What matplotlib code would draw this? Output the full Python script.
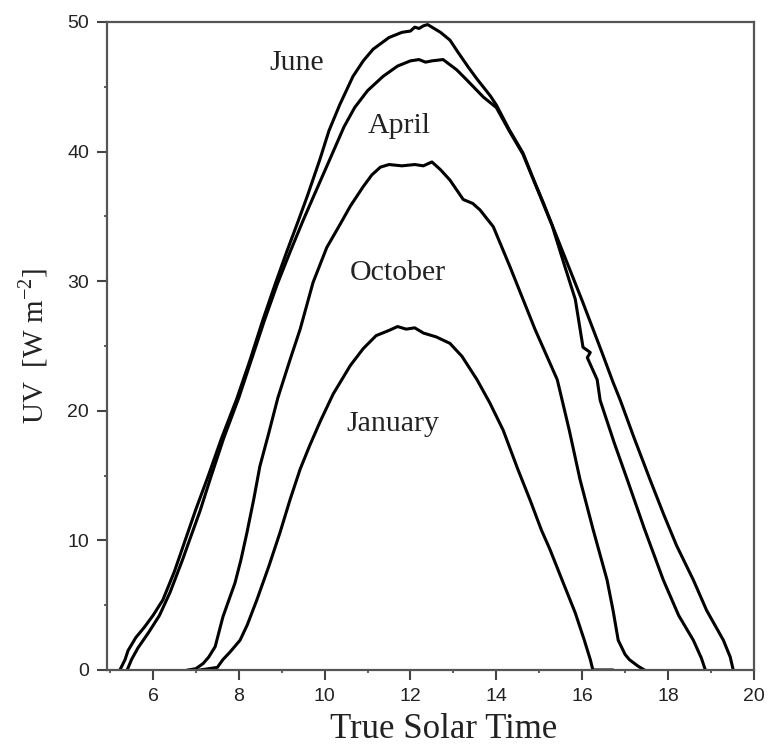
import matplotlib
matplotlib.use('Agg')
import matplotlib.pyplot as plt
from matplotlib.ticker import MultipleLocator, FixedLocator

# UV traces
june_x = [5.23, 5.35, 5.42, 5.6, 5.8, 6.0, 6.23, 6.5, 6.75, 7.0, 7.28, 7.6, 7.95, 8.25, 8.56, 8.85,
          9.12, 9.38, 9.6, 9.89, 10.1, 10.35, 10.66, 10.9, 11.13, 11.5, 11.8, 12.0, 12.1, 12.2, 12.3,
          12.4, 12.5, 12.7, 12.92, 13.1, 13.35, 13.55, 13.86, 14.0, 14.3, 14.62, 14.85, 15.09, 15.4,
          15.7, 16.0, 16.45, 16.72, 16.89, 17.2, 17.58, 17.9, 18.2, 18.59, 18.9, 19.29, 19.45, 19.52]
june_y = [0, 0.8, 1.5, 2.5, 3.3, 4.2, 5.4, 7.6, 10.0, 12.4, 14.9, 17.9, 20.9, 23.8, 27.0, 29.8,
          32.3, 34.6, 36.6, 39.4, 41.6, 43.6, 45.8, 47.0, 47.9, 48.8, 49.2, 49.3, 49.6, 49.5, 49.7,
          49.8, 49.6, 49.2, 48.6, 47.7, 46.5, 45.6, 44.3, 43.6, 41.7, 39.9, 38.0, 36.1, 33.5,
          31.0, 28.5, 24.6, 22.2, 20.8, 18.0, 14.7, 12.0, 9.6, 6.95, 4.6, 2.3, 1.0, 0]

april_x = [5.4, 5.5, 5.65, 5.9, 6.15, 6.4, 6.7, 6.85, 7.1, 7.35, 7.65, 8.0, 8.3, 8.6, 8.9, 9.2,
           9.5, 9.75, 10.2, 10.45, 10.7, 11.0, 11.36, 11.7, 12.0, 12.2, 12.35, 12.5, 12.76, 13.08,
           13.32, 13.7, 14.0, 14.3, 14.62, 15.09, 15.3, 15.6, 15.84, 16.02, 16.19, 16.12, 16.35,
           16.42, 16.75, 17.05, 17.45, 17.89, 18.25, 18.59, 18.78, 18.87]
april_y = [0, 0.8, 1.7, 2.9, 4.2, 6.0, 8.6, 10.0, 12.3, 14.9, 17.9, 21.0, 24.0, 27.0, 29.8, 32.3,
           34.7, 36.6, 40.0, 41.9, 43.4, 44.7, 45.8, 46.6, 47.0, 47.1, 46.9, 47.0, 47.1, 46.3,
           45.5, 44.2, 43.4, 41.6, 39.8, 36.0, 34.3, 31.1, 28.6, 24.9, 24.5, 24.1, 22.4,
           20.8, 17.5, 14.7, 10.9, 6.95, 4.2, 2.3, 0.9, 0]

oct_x = [6.82, 7.0, 7.17, 7.3, 7.45, 7.63, 7.78, 7.91, 8.05, 8.19, 8.35, 8.49, 8.7, 8.91, 9.2,
         9.43, 9.73, 10.05, 10.38, 10.6, 10.9, 11.1, 11.3, 11.5, 11.8, 12.1, 12.3, 12.5, 12.7,
         12.92, 13.23, 13.45, 13.62, 13.93, 14.32, 14.9, 15.42, 15.7, 15.95, 16.25, 16.58,
         16.72, 16.84, 17.0, 17.1, 17.3, 17.45]
oct_y = [0, 0.1, 0.5, 1.0, 1.8, 4.1, 5.5, 6.7, 8.5, 10.6, 13.2, 15.7, 18.3, 21.0, 24.0,
         26.3, 29.9, 32.6, 34.5, 35.8, 37.3, 38.2, 38.8, 39.0, 38.9, 39.0, 38.9, 39.2, 38.6,
         37.8, 36.3, 36.0, 35.5, 34.2, 31.1, 26.3, 22.4, 18.5, 14.7, 10.9, 6.95,
         4.6, 2.3, 1.2, 0.8, 0.3, 0]

jan_x = [7.1, 7.3, 7.5, 7.63, 7.8, 8.03, 8.2, 8.42, 8.7, 8.96, 9.2, 9.43, 9.65, 9.9, 10.2, 10.6,
         10.9, 11.2, 11.5, 11.7, 11.9, 12.1, 12.3, 12.6, 12.92, 13.2, 13.55, 13.85, 14.16, 14.5,
         14.8, 15.05, 15.25, 15.55, 15.84, 16.05, 16.19, 16.25, 16.7]
jan_y = [0, 0.1, 0.2, 0.8, 1.4, 2.3, 3.5, 5.4, 8.0, 10.6, 13.2, 15.5, 17.3, 19.2, 21.3, 23.5,
         24.8, 25.8, 26.2, 26.5, 26.3, 26.4, 26.0, 25.7, 25.2, 24.2, 22.4, 20.6, 18.5, 15.5,
         13.0, 10.8, 9.3, 6.8, 4.4, 2.3, 0.8, 0, 0]

labels = ['June', 'April', 'October', 'January']
label_x = [9.35, 11.73, 11.7, 11.6]
label_y = [46.8, 42.0, 30.6, 19.0]

fig = plt.figure(figsize=(7.7, 7.45), dpi=100)
ax = fig.add_axes([0.139, 0.1007, 0.840, 0.8698])

for xs, ys in [(june_x, june_y), (april_x, april_y), (oct_x, oct_y), (jan_x, jan_y)]:
    ax.plot(xs, ys, color='black', lw=2.2, solid_joinstyle='round')

for t, lx, ly in zip(labels, label_x, label_y):
    ax.text(lx, ly, t, fontsize=21.5, family='Liberation Serif', ha='center', va='center', color='#222222')

ax.set_xlim(4.93, 20.0)
ax.set_ylim(0, 50)
ax.xaxis.set_major_locator(FixedLocator([6, 8, 10, 12, 14, 16, 18, 20]))
ax.xaxis.set_minor_locator(FixedLocator([5, 7, 9, 11, 13, 15, 17, 19]))
ax.yaxis.set_major_locator(MultipleLocator(10))
ax.yaxis.set_minor_locator(MultipleLocator(5))
ax.tick_params(which='major', direction='out', length=7, width=1.5, color='#444444',
               labelsize=14, pad=6, labelcolor='#222222')
ax.tick_params(which='minor', direction='out', length=2.5, width=1.2, color='#444444')
for lab in ax.get_xticklabels() + ax.get_yticklabels():
    lab.set_family('Liberation Sans')
for s in ax.spines.values():
    s.set_color('#555555')
    s.set_linewidth(1.6)

plt.rcParams['mathtext.fontset'] = 'stix'
ax.set_xlabel('True Solar Time', fontsize=25, family='Liberation Serif', x=0.52, labelpad=6, color='#222222')
ax.set_ylabel('UV  [W m$^{\\mathregular{-2}}$]', fontsize=21, family='Liberation Serif', labelpad=12, color='#222222')

fig.savefig('out.png', dpi=100)
